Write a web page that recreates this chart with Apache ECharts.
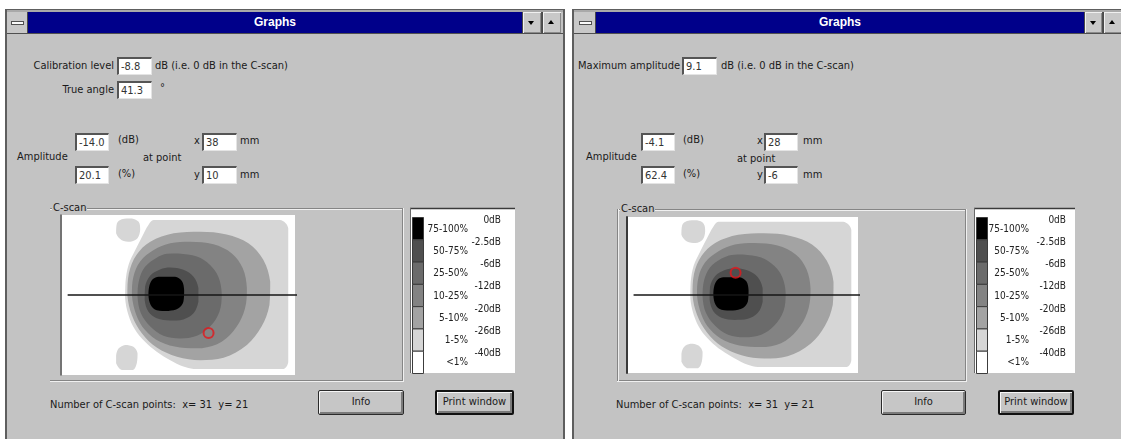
<!DOCTYPE html>
<html>
<head>
<meta charset="utf-8">
<title>Graphs</title>
<script src="https://cdn.jsdelivr.net/npm/echarts@6/dist/echarts.min.js"></script>
<style>
html,body{margin:0;padding:0;}
body{width:1121px;height:439px;overflow:hidden;position:relative;background:#fff;
  font-family:"Liberation Sans Narrow","DejaVu Sans Condensed","Liberation Sans",sans-serif;font-size:11px;color:#1a1a1a;}
.a{position:absolute;box-sizing:border-box;}
.win{background:#c3c3c3;border-left:2px solid #5e5e5e;border-right:2px solid #5e5e5e;border-top:1px solid #5e5e5e;}
.strip{background:#a9a9a9;}
.bar{background:#00008a;}
.ttl{color:#fff;font-family:"Liberation Sans",sans-serif;font-weight:bold;font-size:12px;line-height:21px;text-align:center;}
.sys{background:#c8c8c8;border-right:1px solid #4a4a4a;}
.ico{background:#fafafa;border:1px solid #505050;}
.btn3{background:#c8c8c8;border-left:1px solid #4a4a4a;box-shadow:inset 1px 1px #f0f0f0, inset -1px -1px #8a8a8a;}
.dark{background:#505050;}
.tri{position:absolute;width:0;height:0;border-left:3px solid transparent;border-right:3px solid transparent;}
.t{white-space:pre;line-height:14px;height:14px;}
.edit{background:#fff;border-top:2px solid #555;border-left:2px solid #555;border-right:1px solid #e4e4e4;border-bottom:1px solid #e4e4e4;padding-left:2px;line-height:15px;white-space:nowrap;color:#333;}
.eh{background:#858585;}
.el{background:#f0f0f0;}
.grp{background:#c3c3c3;padding:0 1px;}
.pbtn{background:#c6c6c6;border:1px solid #2a2a2a;border-radius:2px;box-shadow:inset 1px 1px #f6f6f6, inset -2px -2px #7a7a7a;text-align:center;line-height:22px;}
.pbtn.def{border:2px solid #111;line-height:20px;}
#chart{position:absolute;left:0;top:0;width:1121px;height:439px;z-index:10;}
</style>
</head>
<body>
<div id="chart"></div>
<script>
// ---------------- values ----------------
// C-scan raster: 31 x 21 points, 2 mm apart
const scanPointsX = 31;
const scanPointsY = 21;
const scanStepMm = 2;
const scanXStartMm = 0;
const scanYStartMm = -20;

const bandLabels = ['75-100%', '50-75%', '25-50%', '10-25%', '5-10%', '1-5%', '<1%'];
const levelLabels = ['0dB', '-2.5dB', '-6dB', '-12dB', '-20dB', '-26dB', '-40dB'];

// contour outlines in mm (x, y); y grows downwards on the scan
const contour40dB = [[23.4,-19.7],[40.0,-19.7],[57.0,-19.7],[59.2,-17.5],[59.2,0.0],[59.2,17.5],[57.9,19.4],[46.0,19.4],[34.0,19.4],[31.3,18.8],[27.8,17.1],[24.2,14.9],[21.1,12.3],[18.5,9.2],[16.7,5.3],[15.8,0.9],[15.9,-3.5],[16.7,-7.9],[18.5,-11.8],[20.3,-15.3],[22.0,-18.4]];
const contour40dBIslandTop = [[13.6,-18.8],[14.9,-19.9],[17.6,-20.1],[19.4,-19.2],[19.8,-17.1],[19.1,-14.9],[17.2,-14.0],[14.9,-14.4],[13.4,-16.2]];
const contour40dBIslandBottom = [[14.1,14.0],[15.8,13.1],[18.0,13.6],[19.1,15.3],[18.9,17.9],[17.9,19.7],[14.9,19.7],[13.4,17.9],[13.4,15.8]];
const contour26dB = [[35.8,-16.6],[42.8,-15.9],[48.6,-13.6],[52.6,-9.2],[54.4,-3.5],[54.2,2.6],[52.1,8.3],[48.2,13.1],[42.0,16.5],[35.8,17.1],[29.6,16.2],[24.2,13.8],[20.3,10.1],[17.6,5.3],[16.4,0.0],[16.8,-5.7],[18.8,-10.5],[22.5,-14.0],[28.7,-16.2]];
const contour20dB = [[33.1,-14.0],[39.3,-13.3],[44.2,-10.9],[47.1,-7.0],[48.2,-1.8],[47.7,3.5],[45.5,8.3],[41.5,12.3],[36.2,14.0],[30.4,13.8],[25.1,12.3],[21.1,9.2],[18.8,5.3],[17.6,0.0],[18.0,-4.8],[19.8,-8.8],[23.4,-11.8],[27.8,-13.6]];
const contour12dB = [[30.0,-10.9],[34.9,-10.1],[38.4,-7.9],[40.6,-4.8],[41.5,-0.4],[40.9,4.4],[38.4,8.3],[34.9,10.7],[30.4,11.4],[26.0,10.7],[22.5,8.3],[20.0,4.8],[19.1,0.4],[19.5,-3.9],[21.1,-7.4],[24.2,-9.8],[26.9,-10.8]];
const contour6dB = [[27.8,-7.2],[31.3,-6.6],[34.0,-4.8],[35.3,-1.8],[35.3,1.8],[34.0,4.8],[31.3,6.4],[27.8,6.7],[24.2,6.1],[22.0,4.4],[21.0,1.3],[21.1,-2.2],[22.5,-5.1],[25.1,-6.7]];
const contour2p5dB = [[24.7,-4.8],[29.1,-4.8],[30.9,-3.7],[31.5,-1.3],[31.3,1.8],[30.0,3.5],[27.3,4.2],[24.2,4.0],[22.6,2.6],[22.0,0.0],[22.3,-2.6],[23.2,-4.2]];

// section line through the scan
const sectionLineY = 0;
const sectionLineX = [0.5, 62];

// left dialog
const calibrationLevelDb = -8.8;
const trueAngleDeg = 41.3;
const leftAmplitudeDb = -14.0;
const leftAmplitudePct = 20.1;
const leftPoint = [38, 10];

// right dialog
const maxAmplitudeDb = 9.1;
const rightAmplitudeDb = -4.1;
const rightAmplitudePct = 62.4;
const rightPoint = [28, -6];

// ---------------- styles ----------------
const bandColors = ['#000000', '#4f4f4f', '#6b6b6b', '#838383', '#a3a3a3', '#d6d6d6', '#ffffff'];
const FONT = '"Liberation Sans Narrow","DejaVu Sans Condensed","Liberation Sans",sans-serif';

// filled contour layers, outermost first; band index selects the fill
const contourLayers = [
  { pts: contour40dB, band: 5 },
  { pts: contour40dBIslandTop, band: 5 },
  { pts: contour40dBIslandBottom, band: 5 },
  { pts: contour26dB, band: 4 },
  { pts: contour20dB, band: 3 },
  { pts: contour12dB, band: 2 },
  { pts: contour6dB, band: 1 },
  { pts: contour2p5dB, band: 0 }
];

// ---------------- dialog chrome ----------------
function put(cls, x, y, w, h, text, extra) {
  const d = document.createElement('div');
  d.className = 'a ' + cls;
  d.style.left = x + 'px';
  d.style.top = y + 'px';
  if (w != null) d.style.width = w + 'px';
  if (h != null) d.style.height = h + 'px';
  if (text != null) d.textContent = text;
  if (extra) Object.assign(d.style, extra);
  document.body.appendChild(d);
  return d;
}
function label(text, x, yc, alignRight) {
  if (alignRight) return put('t', x - 200, yc - 7, 200, 14, text, { textAlign: 'right' });
  return put('t', x, yc - 7, null, 14, text);
}
function edit(x, y, w, text) { return put('edit', x, y, w, 18, text); }
function tri(x, y, down) {
  const d = document.createElement('div');
  d.className = 'tri';
  d.style.left = x + 'px';
  d.style.top = y + 'px';
  if (down) d.style.borderTop = '4px solid #000'; else d.style.borderBottom = '4px solid #000';
  document.body.appendChild(d);
}
function etchH(x, y, w) { put('eh', x, y, w, 1); put('el', x, y + 1, w, 1); }
function etchV(x, y, h) { put('eh', x, y, 1, h); put('el', x + 1, y, 1, h); }
function fmt(v) { return v.toFixed(1); }
const pointsText = 'Number of C-scan points:  x= ' + scanPointsX + '  y= ' + scanPointsY;

// left window
put('win', 5, 9, 560, 440);
put('strip', 7, 10, 556, 2);
put('sys', 7, 12, 21, 21); put('ico', 11, 21, 13, 4);
put('bar', 28, 12, 494, 21); put('ttl', 28, 12, 494, 21, 'Graphs');
put('btn3', 522, 12, 19, 21); tri(528, 21, true);
put('dark', 541, 12, 1, 21);
put('btn3', 542, 12, 19, 21); tri(548, 20, false);
put('dark', 7, 33, 556, 1);

label('Calibration level', 114, 66, true);
edit(117, 57, 35, fmt(calibrationLevelDb));
label('dB (i.e. 0 dB in the C-scan)', 155, 66);
label('True angle', 114, 90, true);
edit(117, 81, 35, fmt(trueAngleDeg));
label('°', 160, 88);
label('Amplitude', 17, 157);
edit(75, 133, 34, fmt(leftAmplitudeDb));
label('(dB)', 118, 140);
edit(75, 166, 34, fmt(leftAmplitudePct));
label('(%)', 118, 174);
label('at point', 143, 158);
label('x', 194, 141);
edit(202, 133, 35, String(leftPoint[0]));
label('mm', 240, 141);
label('y', 194, 175);
edit(202, 166, 35, String(leftPoint[1]));
label('mm', 240, 175);

etchH(50, 208, 353); etchV(402, 208, 174); etchH(50, 380, 353);
put('t grp', 52, 201, null, 14, 'C-scan');
label(pointsText, 50, 405);
put('pbtn', 318, 390, 86, 25, 'Info');
put('pbtn def', 435, 390, 79, 25, 'Print window');

// right window
put('win', 572, 9, 560, 440);
put('strip', 574, 10, 556, 2);
put('sys', 574, 12, 22, 21); put('ico', 579, 21, 13, 4);
put('bar', 596, 12, 488, 21); put('ttl', 596, 12, 488, 21, 'Graphs');
put('btn3', 1084, 12, 18, 21); tri(1090, 21, true);
put('dark', 1102, 12, 1, 21);
put('btn3', 1103, 12, 19, 21); tri(1109, 20, false);
put('dark', 574, 33, 547, 1);

label('Maximum amplitude', 680, 66, true);
edit(682, 57, 35, fmt(maxAmplitudeDb));
label('dB (i.e. 0 dB in the C-scan)', 721, 66);
label('Amplitude', 586, 157);
edit(641, 133, 34, fmt(rightAmplitudeDb));
label('(dB)', 683, 140);
edit(641, 166, 34, fmt(rightAmplitudePct));
label('(%)', 683, 174);
label('at point', 737, 159);
label('x', 757, 141);
edit(764, 133, 34, String(rightPoint[0]));
label('mm', 803, 141);
label('y', 757, 175);
edit(764, 166, 34, String(rightPoint[1]));
label('mm', 803, 175);

etchH(617, 209, 349); etchV(965, 209, 173); etchH(617, 380, 349); etchV(617, 209, 172);
put('t grp', 620, 202, null, 14, 'C-scan');
label(pointsText, 616, 405);
put('pbtn', 881, 390, 85, 25, 'Info');
put('pbtn def', 998, 390, 76, 25, 'Print window');

// ---------------- C-scan charts ----------------
const xMin = scanXStartMm - scanStepMm / 2;
const xMax = scanXStartMm + (scanPointsX - 1) * scanStepMm + scanStepMm / 2;
const yMin = scanYStartMm - scanStepMm / 2;
const yMax = scanYStartMm + (scanPointsY - 1) * scanStepMm + scanStepMm / 2;

const panels = [
  { grid: { left: 62, top: 215, width: 233, height: 160 }, point: leftPoint, axisColor: '#5a5a5a', axisWidth: 1.5,
    legend: { x: 410, y: 208, w: 105, h: 165, pctRight: 468, dbRight: 501 } },
  { grid: { left: 628, top: 217, width: 230, height: 156 }, point: rightPoint, axisColor: '#3a3a3a', axisWidth: 2,
    legend: { x: 974, y: 208, w: 101, h: 165, pctRight: 1029, dbRight: 1066 } }
];

function contourSeries(i) {
  return {
    type: 'custom',
    xAxisIndex: i, yAxisIndex: i,
    silent: true, z: 2,
    data: contourLayers.map((c, k) => [c.pts[0][0], c.pts[0][1], k]),
    renderItem: function (params, api) {
      const layer = contourLayers[params.dataIndex];
      const pts = layer.pts.map(p => api.coord(p));
      let minX = Infinity, minY = Infinity, maxX = -Infinity, maxY = -Infinity;
      pts.forEach(q => {
        minX = Math.min(minX, q[0]); maxX = Math.max(maxX, q[0]);
        minY = Math.min(minY, q[1]); maxY = Math.max(maxY, q[1]);
      });
      return {
        type: 'polygon',
        shape: { points: pts, smooth: 0.35, smoothConstraint: [[minX, minY], [maxX, maxY]] },
        style: { fill: bandColors[layer.band], stroke: null }
      };
    }
  };
}

function legendGraphics(L) {
  const g = [];
  g.push({ type: 'rect', silent: true, shape: { x: L.x, y: L.y, width: L.w, height: L.h }, style: { fill: '#fff' } });
  g.push({ type: 'line', silent: true, shape: { x1: L.x, y1: L.y + 0.5, x2: L.x + L.w, y2: L.y + 0.5 }, style: { stroke: '#3a3a3a', lineWidth: 1.5 } });
  g.push({ type: 'line', silent: true, shape: { x1: L.x + 0.5, y1: L.y, x2: L.x + 0.5, y2: L.y + L.h }, style: { stroke: '#6a6a6a', lineWidth: 1 } });
  const top = L.y + 9;
  const rowH = (L.y + L.h - top) / bandLabels.length;
  bandLabels.forEach((lab, k) => {
    g.push({ type: 'rect', silent: true,
      shape: { x: L.x + 2.5, y: top + k * rowH + 0.5, width: 11, height: rowH },
      style: { fill: bandColors[k], stroke: '#3c3c3c', lineWidth: 1 } });
    g.push({ type: 'text', silent: true, x: L.pctRight, y: top + (k + 0.5) * rowH + 1,
      style: { text: lab, textAlign: 'right', textVerticalAlign: 'middle', font: '10px ' + FONT, fill: '#222' } });
  });
  levelLabels.forEach((lab, k) => {
    g.push({ type: 'text', silent: true, x: L.dbRight, y: top + k * rowH + 3,
      style: { text: lab, textAlign: 'right', textVerticalAlign: 'middle', font: '10px ' + FONT, fill: '#222' } });
  });
  return g;
}

const series = [];
panels.forEach((p, i) => {
  series.push(contourSeries(i));
  series.push({
    type: 'line', xAxisIndex: i, yAxisIndex: i, silent: true, z: 3, clip: false,
    symbol: 'none', data: sectionLineX.map(x => [x, sectionLineY]),
    lineStyle: { color: '#161616', width: 1.3 }
  });
  series.push({
    type: 'scatter', xAxisIndex: i, yAxisIndex: i, silent: true, z: 4,
    symbol: 'circle', symbolSize: 10, data: [p.point],
    itemStyle: { color: 'rgba(255,255,255,0)', borderColor: '#e3161c', borderWidth: 2 }
  });
});

const chart = echarts.init(document.getElementById('chart'), null, { renderer: 'canvas', width: 1121, height: 439 });
chart.setOption({
  animation: false,
  grid: panels.map(p => Object.assign({ show: true, backgroundColor: '#fff', borderWidth: 0 }, p.grid)),
  xAxis: panels.map((p, i) => ({ gridIndex: i, type: 'value', min: xMin, max: xMax, show: false })),
  yAxis: panels.map((p, i) => ({
    gridIndex: i, type: 'value', min: yMin, max: yMax, inverse: true, offset: 1,
    axisLine: { show: true, onZero: false, lineStyle: { color: p.axisColor, width: p.axisWidth } },
    axisTick: { show: false }, axisLabel: { show: false }, splitLine: { show: false }
  })),
  series: series,
  graphic: panels.reduce((acc, p) => acc.concat(legendGraphics(p.legend)), [])
});
</script>
</body>
</html>
